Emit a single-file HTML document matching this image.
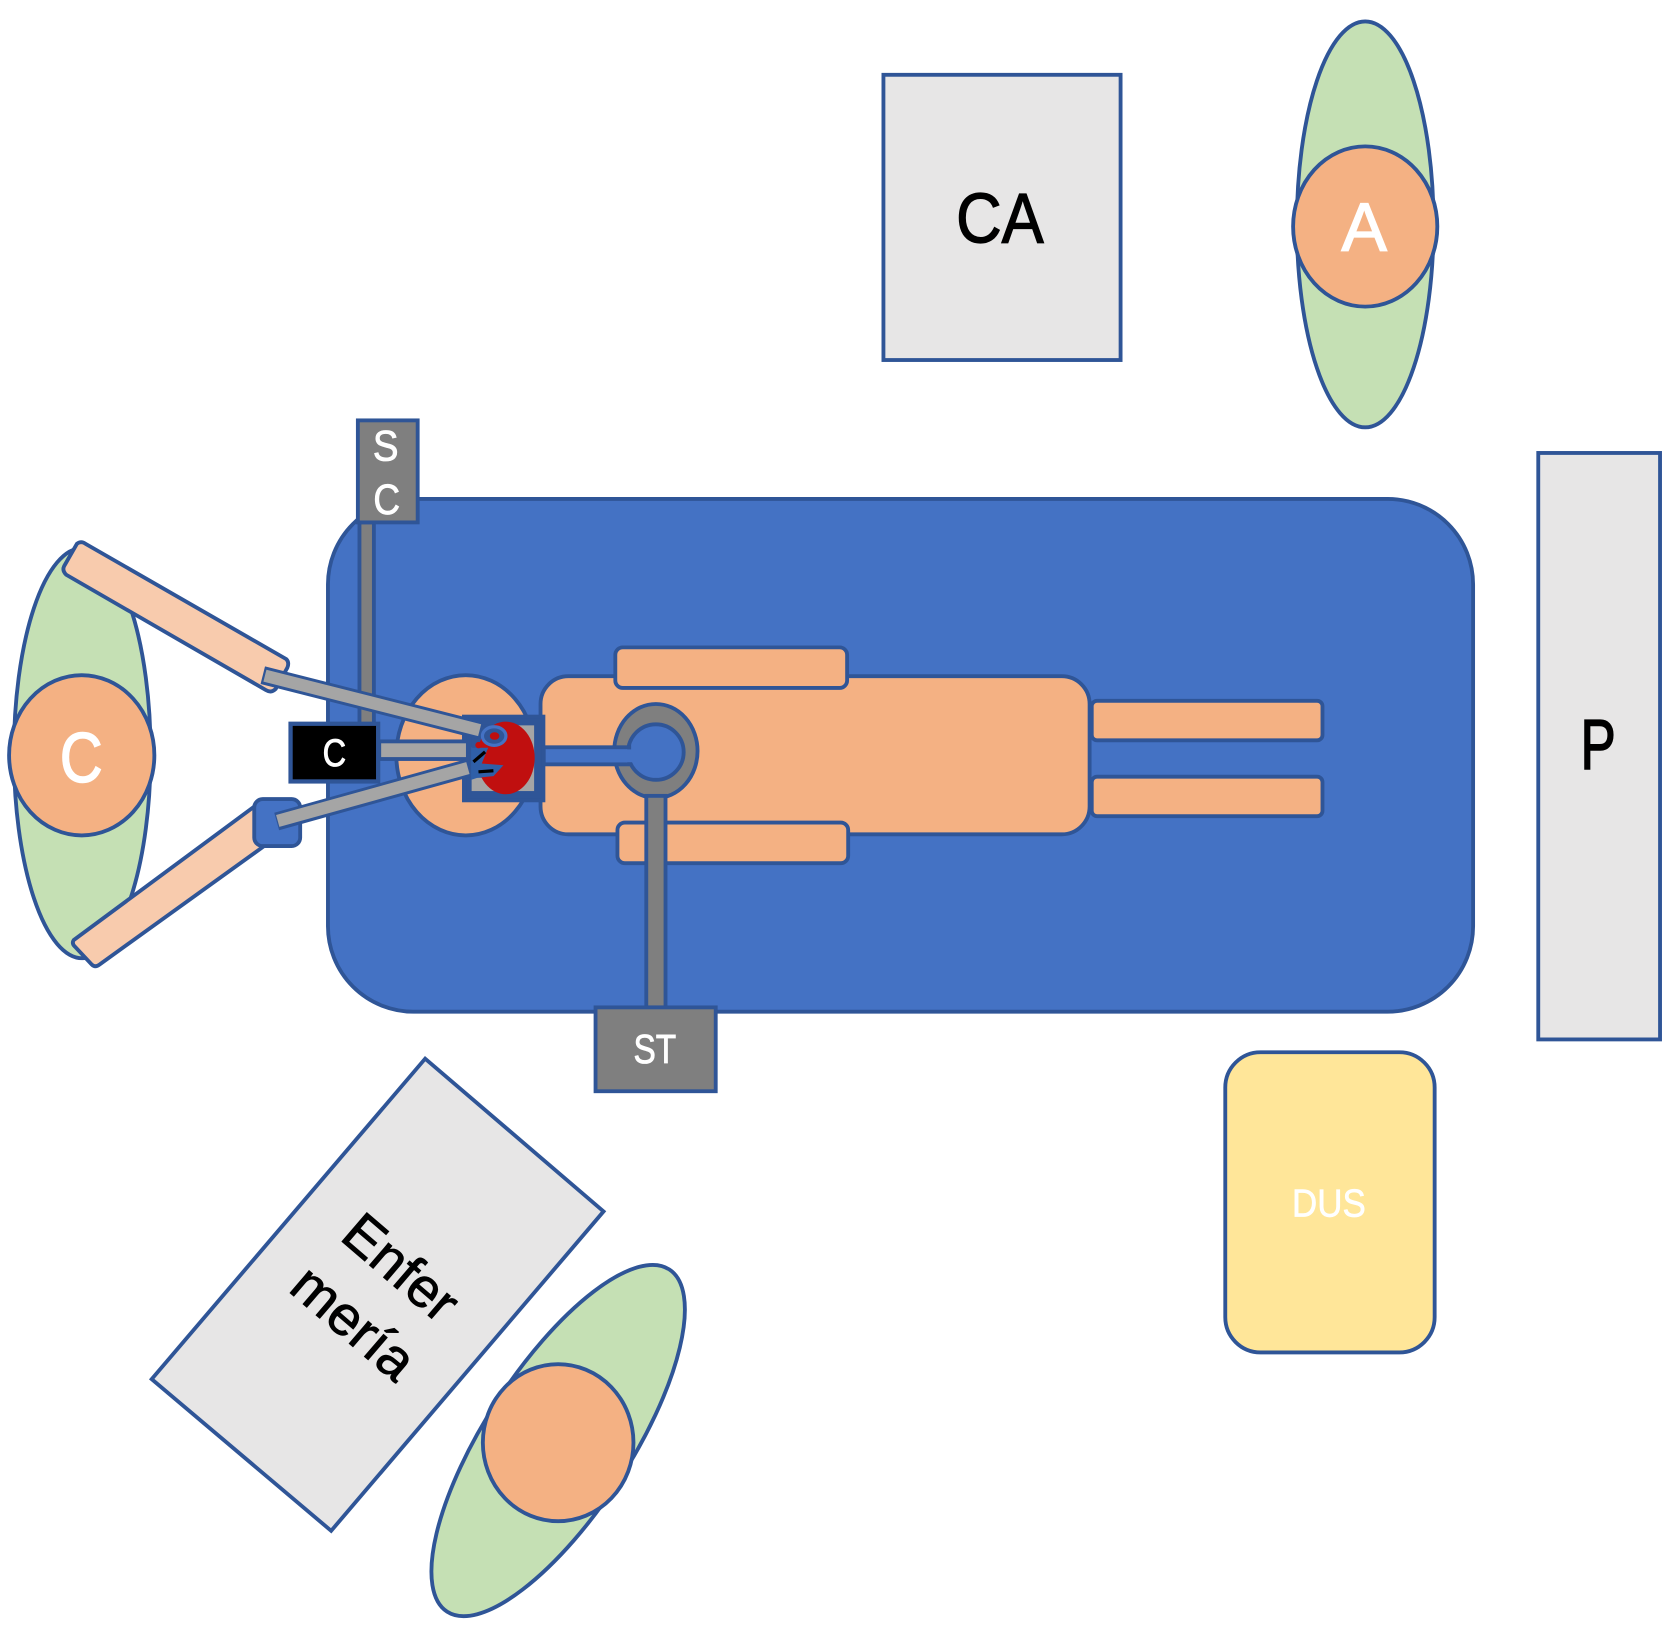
<!DOCTYPE html>
<html><head><meta charset="utf-8"><style>
html,body{margin:0;padding:0;background:#fff}
svg{display:block}
text{font-family:"Liberation Sans",sans-serif;text-anchor:middle}
</style></head><body>
<svg xmlns="http://www.w3.org/2000/svg" width="1675" height="1635" viewBox="0 0 1568 1530.5">
<g stroke="#2f5597" stroke-width="3.600">
<!-- CA -->
<rect x="827" y="70" width="222" height="267" fill="#e7e6e6"/>
<text x="936" y="227" font-size="66" textLength="82" lengthAdjust="spacingAndGlyphs" fill="#000" stroke="#000" stroke-width="1.200">CA</text>
<!-- A -->
<ellipse cx="1278" cy="210" rx="64" ry="190" fill="#c5e0b4"/>
<ellipse cx="1278" cy="212" rx="67.500" ry="75" fill="#f4b183"/>
<text x="1277" y="235" font-size="64" fill="#fff" stroke="#fff" stroke-width="1.200">A</text>
<!-- P -->
<rect x="1440" y="424" width="114" height="549" fill="#e7e6e6"/>
<text x="1496" y="720" font-size="66" textLength="33" lengthAdjust="spacingAndGlyphs" fill="#000" stroke="#000" stroke-width="1.500">P</text>
<!-- table -->
<rect x="307" y="467" width="1072" height="480" rx="80" ry="80" fill="#4472c4"/>
<!-- SC -->
<rect x="336.500" y="489" width="13.500" height="195" fill="#7f7f7f"/>
<rect x="335" y="393.500" width="56" height="95.500" fill="#7f7f7f"/>
<text x="361" y="431" font-size="40" textLength="24" lengthAdjust="spacingAndGlyphs" fill="#fff" stroke="#fff" stroke-width=".8">S</text>
<text x="362" y="481" font-size="40" textLength="25" lengthAdjust="spacingAndGlyphs" fill="#fff" stroke="#fff" stroke-width=".8">C</text>
<!-- C person -->
<ellipse cx="77" cy="705" rx="64" ry="192" fill="#c5e0b4"/>
<ellipse cx="76.500" cy="707" rx="68" ry="75" fill="#f4b183"/>
<text x="76" y="732" font-size="66" textLength="40" lengthAdjust="spacingAndGlyphs" fill="#fff" stroke="#fff" stroke-width="1.500">C</text>
<!-- arms -->
<path d="M72 509Q76 506 80 509L268 617Q271 620 269 625L258 645Q254 649 249 646L62 538Q58 534 60 530Z" fill="#f8cbad"/>
<path d="M69 880L238 755L250 790L93 903Q89 906 86 903L70 886Q67 883 69 880Z" fill="#f8cbad"/>
<rect x="238" y="748" width="43" height="44" rx="8" ry="8" fill="#4472c4"/>
<!-- head -->
<ellipse cx="436" cy="707" rx="65" ry="75" fill="#f4b183"/>
<!-- body -->
<rect x="506" y="633" width="514" height="148" rx="26" ry="26" fill="#f4b183"/>
<rect x="576" y="606" width="217" height="38" rx="7" ry="7" fill="#f4b183"/>
<rect x="578" y="770" width="216" height="38" rx="7" ry="7" fill="#f4b183"/>
<rect x="1022" y="656" width="216" height="37" rx="5" ry="5" fill="#f4b183"/>
<rect x="1022" y="727" width="216" height="37" rx="5" ry="5" fill="#f4b183"/>
<!-- field -->
<rect x="434.500" y="671" width="74" height="78" fill="#2f5597" stroke-width="4"/>
<rect x="441.500" y="679" width="58.500" height="61.500" fill="#a5a5a5" stroke="none"/>
<path d="M441.500 678H466V700H441.500ZM441.500 700H452V728H441.500Z" fill="#2f5597" stroke="none"/>
<ellipse cx="473.500" cy="709.500" rx="27" ry="34" fill="#c00f0f" stroke="none"/>
<path d="M441 700L457 700L451 714.700L471.300 716.300L462 726.500L447 728L441 730Z" fill="#2f5fa8" stroke="none"/>
<path d="M441 680H458L450 692L441 700Z" fill="#2f5597" stroke="none"/>
<circle cx="448" cy="697.500" r="3" fill="#c00f0f" stroke="none"/>
<ellipse cx="462.600" cy="689" rx="11" ry="8.700" fill="#2f5597" stroke="#4472c4" stroke-width="3"/>
<ellipse cx="463" cy="689" rx="4.500" ry="3.500" fill="#c00f0f" stroke="none"/>
<path d="M443.200 713.200L454.100 703.800M447.900 722.500L461.900 721.500" fill="none" stroke="#000" stroke-width="3"/>
<!-- ring + tube -->
<ellipse cx="614" cy="703" rx="39" ry="44" fill="#7f7f7f"/>
<ellipse cx="614" cy="704" rx="26" ry="26" fill="#4472c4"/>
<rect x="509" y="699.500" width="80" height="16" fill="#4472c4"/>
<rect x="586" y="701.500" width="6" height="12" fill="#4472c4" stroke="none"/>
<rect x="605" y="745" width="18" height="198" fill="#7f7f7f"/>
<!-- ST -->
<rect x="557.500" y="943" width="112.500" height="78.500" fill="#7f7f7f"/>
<text x="613" y="995" font-size="38" textLength="40" lengthAdjust="spacingAndGlyphs" fill="#fff" stroke="#fff" stroke-width=".8">ST</text>
<!-- instruments -->
<path d="M246 632L449 683.500" stroke="#2f5597" stroke-width="17" fill="none"/>
<path d="M248 632.500L449 683.500" stroke="#a5a5a5" stroke-width="11.500" fill="none"/>
<rect x="355" y="694" width="83" height="16.500" fill="#a5a5a5"/>
<path d="M259 769L438 719" stroke="#2f5597" stroke-width="17" fill="none"/>
<path d="M260 768.500L438 719" stroke="#a5a5a5" stroke-width="11.500" fill="none"/>
<!-- camera -->
<rect x="272" y="677.500" width="82" height="54" fill="#000" stroke-width="4"/>
<text x="313" y="717" font-size="36" textLength="22" lengthAdjust="spacingAndGlyphs" fill="#fff" stroke="#fff" stroke-width=".8">C</text>
<!-- DUS -->
<rect x="1147" y="985" width="196" height="281" rx="33" ry="33" fill="#ffe699"/>
<text x="1244" y="1139" font-size="36" textLength="69" lengthAdjust="spacingAndGlyphs" fill="#fff" stroke="#fff" stroke-width=".6">DUS</text>
<!-- Enfermería -->
<polygon points="398,991 565,1134 310,1433 142,1291" fill="#e7e6e6"/>
<g transform="translate(353.500,1212) rotate(40.600)" fill="#000" stroke="#000" stroke-width=".8" font-size="52">
<text x="0" y="-16" textLength="124" lengthAdjust="spacingAndGlyphs">Enfer</text>
<text x="0" y="52" textLength="134" lengthAdjust="spacingAndGlyphs">mería</text>
</g>
<!-- nurse -->
<ellipse cx="522.500" cy="1348.500" rx="68" ry="191" transform="rotate(33 522.500 1348.500)" fill="#c5e0b4"/>
<ellipse cx="522.500" cy="1350.500" rx="70.500" ry="73.500" fill="#f4b183"/>
</g>
</svg>
</body></html>
